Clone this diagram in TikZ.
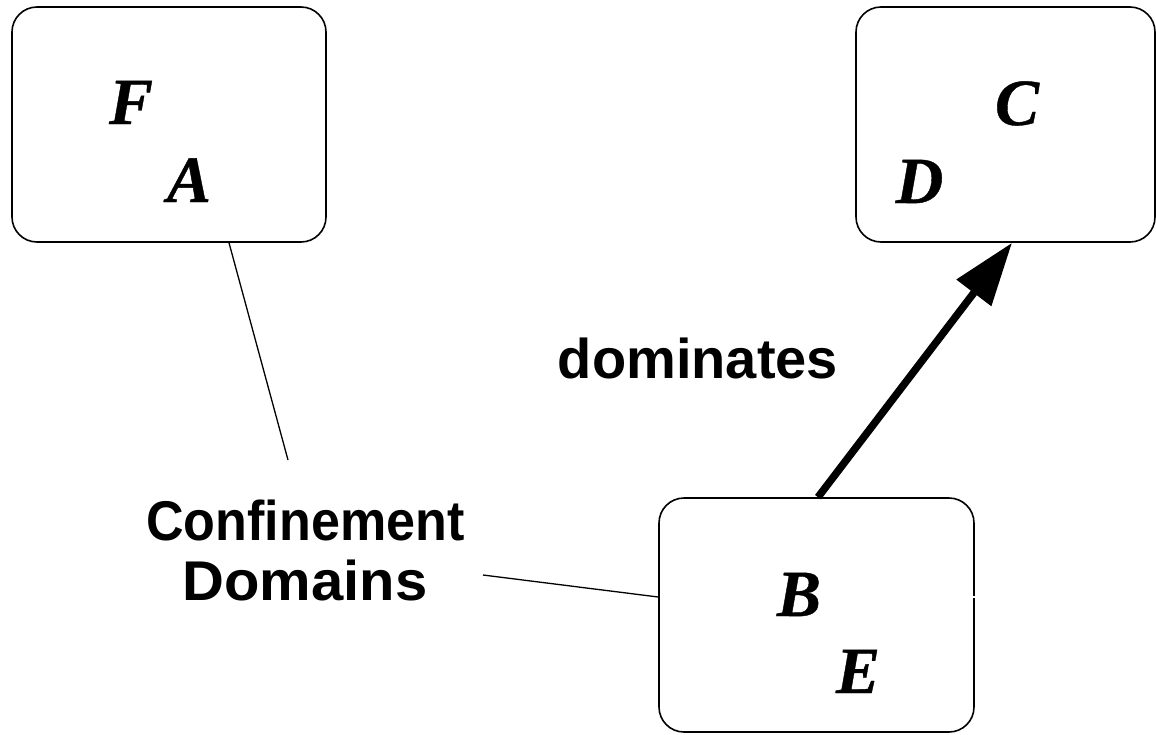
\documentclass[tikz,border=0pt]{standalone}
\usepackage{fontspec}
\setmainfont{Liberation Serif}
\setsansfont{Liberation Sans}
\newfontfamily\heavyital[BoldItalicFeatures={FakeBold=0.6}]{Liberation Serif}
\usetikzlibrary{arrows.meta}
\begin{document}
\begin{tikzpicture}[x=1pt,y=-1pt,
  cbox/.style={draw,line width=1.6pt,rounded corners=25pt,inner sep=0pt},
  letter/.style={anchor=base,inner sep=0pt,font=\fontsize{66}{66}\selectfont\heavyital\bfseries\itshape},
  lbl/.style={anchor=base,inner sep=0pt,font=\fontsize{56}{56}\selectfont\sffamily\bfseries},
  thinline/.style={line width=1.3pt},
  domarrow/.style={line width=7.5pt,-{Triangle[length=63pt,width=42pt]}}]
\useasboundingbox (0,0) rectangle (1156,734);
\node[cbox,minimum width=314pt,minimum height=235pt] (box1) at (169,124.5) {};
\node[cbox,minimum width=299pt,minimum height=235pt] (box2) at (1005.5,124.5) {};
\node[cbox,minimum width=315pt,minimum height=234pt] (box3) at (816.5,615) {};
\node[letter] (F) at (131,124) {F};
\node[letter] (A) at (189,202) {A};
\node[letter] (C) at (1017,125) {C};
\node[letter] (D) at (919.5,203) {D};
\node[letter] (B) at (799,616) {B};
\node[letter] (E) at (858,693) {E};
\node[lbl] (conf) at (305.5,540) {\scalebox{0.93}[1]{Confinement}};
\node[lbl] (doms) at (305,600) {\scalebox{1.035}[1]{Domains}};
\node[lbl] (domin) at (698,378) {dominates};
\coordinate (c1) at (288,460);
\coordinate (c2) at (483,575);
\draw[thinline] ([xshift=60pt]box1.south) -- (c1);
\draw[thinline] (c2) -- ([yshift=18pt]box3.west);
\draw[domarrow] ([xshift=1.5pt]box3.north) -- ([xshift=6.5pt]box2.south);
\draw[white,line width=1.2pt] ([yshift=18pt,xshift=-2pt]box3.east) -- ([yshift=18pt,xshift=6pt]box3.east);
\end{tikzpicture}
\end{document}
